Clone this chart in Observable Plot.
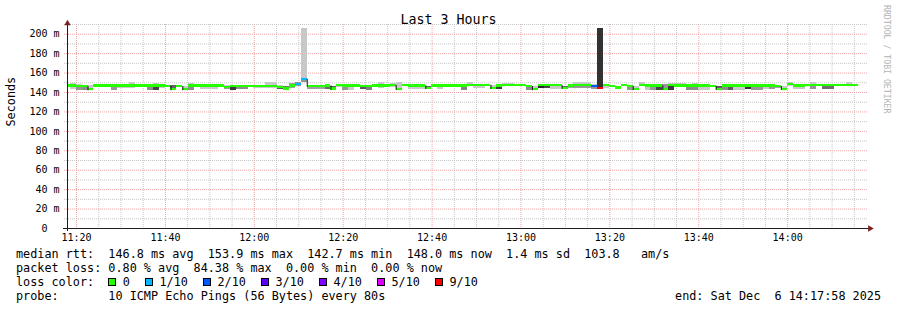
<!DOCTYPE html>
<html><head><meta charset="utf-8">
<script src="https://cdn.jsdelivr.net/npm/d3@7"></script>
<script src="https://cdn.jsdelivr.net/npm/@observablehq/plot@0.6"></script>
<style>
html,body{margin:0;padding:0;background:#fff;}
#wrap{position:relative;width:897px;height:310px;font-family:"DejaVu Sans Mono",monospace;color:#000;overflow:hidden;}
#wrap svg{position:absolute;left:0;top:0;}
.t{position:absolute;white-space:pre;}
</style></head><body><div id="wrap"></div>
<script>
// ---- text / labels ----
const titleText = "Last 3 Hours";
const yAxisLabel = "Seconds";
const yTickValues = [0, 20, 40, 60, 80, 100, 120, 140, 160, 180, 200];
const xTickLabels = ["11:20","11:40","12:00","12:20","12:40","13:00","13:20","13:40","14:00"];
const lossLevels = [0, 1, 2, 3, 4, 5, 9];
const lossLabels = ["0","1/10","2/10","3/10","4/10","5/10","9/10"];
const lossColors = ["#26ff00","#00b8ff","#0059ff","#5e00ff","#7e00ff","#dd00ff","#ff0000"];
const rttStats = ["146.8 ms avg","153.9 ms max","142.7 ms min","148.0 ms now","1.4 ms sd","103.8   am/s"];
const lossStats = ["0.80 % avg","84.38 % max","0.00 % min","0.00 % now"];
const probeText = "10 ICMP Echo Pings (56 Bytes) every 80s";
const endText = "end: Sat Dec  6 14:17:58 2025";
const watermark = "RRDTOOL / TOBI OETIKER";

// ---- series (one entry per 80 s step) ----
const medianMs = [
146.7,146.7,146.5,146.0,142.8,146.7,146.7,146.7,146.7,146.7,
146.7,146.7,146.7,146.7,146.7,146.7,146.7,146.2,143.0,146.2,
143.0,146.7,146.7,146.7,146.7,146.7,146.7,145.5,146.5,146.2,
146.2,146.2,146.5,146.5,146.5,146.5,145.0,143.5,146.7,148.5,
153.5,146.5,146.5,146.5,146.7,143.5,147.0,146.8,146.8,146.8,
146.2,146.5,146.8,146.8,146.8,147.2,143.3,147.4,146.8,146.8,
146.8,144.4,146.8,146.8,146.8,146.8,146.8,146.8,147.4,147.4,
147.4,147.4,144.4,146.8,147.4,147.4,147.4,147.4,146.2,143.0,
147.4,147.4,147.0,147.0,144.4,146.8,147.2,147.2,147.2,146.5,
144.0,147.4,146.0,144.7,147.4,146.4,143.3,147.4,146.8,146.8,
146.8,143.3,147.0,146.8,146.8,146.8,146.8,146.8,146.8,146.2,
143.3,146.8,146.8,146.8,146.8,146.8,146.8,146.8,146.8,146.8,
146.2,143.3,148.0,146.8,146.8,147.4,147.4,147.4,147.4,147.4,
147.4,147.4,147.4,147.4];
const smokeLow = [
145.0,143.5,142.5,142.5,141.8,145.5,145.5,145.0,142.3,144.0,
144.0,144.0,145.5,145.5,142.3,142.3,144.0,145.0,142.0,145.0,
142.0,142.3,145.5,143.5,143.5,143.5,145.5,143.5,142.5,142.7,
142.7,145.0,144.5,144.5,144.0,144.0,143.0,142.5,144.0,146.0,
150.0,143.5,143.5,143.5,143.0,142.5,145.5,141.8,142.5,145.5,
143.2,141.8,145.5,144.0,145.5,145.5,142.3,146.0,143.5,143.5,
143.5,143.4,145.5,143.0,145.5,145.5,145.5,142.3,146.0,144.5,
144.5,146.0,143.4,143.0,146.0,146.0,146.0,146.0,141.8,142.0,
144.5,144.0,143.0,143.0,143.4,144.0,144.0,144.0,144.0,143.0,
143.0,144.0,145.0,143.7,146.0,141.8,142.3,146.0,142.5,142.5,
142.5,142.3,142.3,145.5,145.5,142.5,142.5,142.3,142.3,145.0,
142.3,142.5,142.3,142.3,142.3,143.0,142.3,142.3,143.0,143.0,
144.0,142.3,146.5,143.0,143.0,146.0,143.0,146.0,143.0,143.0,
146.0,146.0,146.0,146.0];
const smokeHigh = [
148.0,149.0,148.5,147.5,147.4,147.5,147.5,147.5,147.5,147.5,
147.5,150.0,147.5,147.5,147.5,148.8,147.5,147.5,147.0,147.5,
146.5,149.0,147.5,147.5,147.5,147.5,147.5,147.5,147.5,147.5,
147.5,147.5,147.5,147.5,150.0,150.0,147.5,146.5,149.0,150.0,
206.0,147.5,147.5,147.5,147.5,146.5,148.0,148.0,148.0,148.0,
147.5,147.5,148.0,150.0,148.0,149.0,149.8,148.5,148.0,148.0,
148.0,146.5,148.0,148.0,148.0,148.0,148.0,148.0,150.5,148.5,
148.5,148.5,147.5,148.0,149.5,149.5,148.5,148.5,147.5,146.5,
148.5,148.5,148.0,148.0,146.5,148.0,150.5,150.5,150.5,148.0,
206.0,148.5,147.4,146.5,148.5,147.5,146.5,149.8,148.0,148.0,
148.0,148.0,149.5,149.5,149.5,148.0,149.5,148.0,148.0,147.5,
146.5,148.0,148.0,148.0,148.0,148.0,148.0,148.0,148.0,148.0,
147.5,146.5,150.5,148.0,148.0,148.5,150.5,148.5,148.5,148.5,
148.5,148.5,149.8,148.5];
const shadeLow = [
200,200,150,140,200,200,200,200,150,200,
200,200,200,200,140,70,200,200,200,200,
200,140,200,200,200,200,200,150,60,140,
140,200,200,200,200,200,90,200,160,150,
150,160,160,160,110,200,200,150,200,200,
90,130,200,200,200,200,200,200,200,200,
200,200,200,200,200,200,200,130,200,200,
200,200,200,60,200,200,200,200,140,200,
40,70,200,200,200,160,150,150,150,150,
50,200,200,160,200,150,200,200,200,150,
70,200,60,200,200,140,140,200,200,200,
200,140,90,200,200,50,150,150,200,150,
160,200,200,200,200,200,150,200,110,110,
200,200,200,200];
const shadeHigh = [
200,200,200,200,200,200,200,200,200,200,
200,200,200,200,200,200,200,200,100,200,
200,200,200,200,200,200,200,200,200,200,
200,200,200,200,200,200,200,120,160,150,
200,200,200,200,200,90,200,200,200,200,
200,200,200,200,200,200,200,200,200,200,
200,100,200,200,200,200,200,200,200,200,
200,200,200,200,200,200,200,200,200,200,
200,200,200,200,100,200,200,200,200,200,
50,200,90,160,200,200,200,200,200,200,
200,150,200,200,200,200,200,200,200,200,
90,200,200,200,200,200,200,200,200,200,
200,200,200,200,200,200,200,200,200,200,
200,200,200,200];
const lossSteps = [39, 40, 89, 90];
const lossCounts = [1, 1, 2, 9];

// ---- build ----
const dataStart = Date.UTC(2025, 11, 6, 11, 17, 15);
const stepMs = 80000;
const gray = v => `rgb(${v},${v},${v})`;
const rows = medianMs.map((m, j) => {
  const k = lossSteps.indexOf(j);
  const lost = k < 0 ? 0 : lossCounts[k];
  let ci = 0;
  lossLevels.forEach((l, i) => { if (lost >= l) ci = i; });
  return {
    t1: new Date(dataStart + j * stepMs), t2: new Date(dataStart + (j + 1) * stepMs),
    med: m, prev: j > 0 ? medianMs[j - 1] : m, lo: smokeLow[j], hi: smokeHigh[j],
    fLo: gray(shadeLow[j]), fHi: gray(shadeHigh[j]), lc: lossColors[ci]
  };
});
const drops = rows.filter(d => d.prev - d.med > 1.8 && d.lc === lossColors[0]);
const xStart = new Date(Date.UTC(2025, 11, 6, 11, 17, 58));
const xEnd = new Date(+xStart + 3 * 3600 * 1000);
const toDate = s => { const [h, m] = s.split(":").map(Number); return new Date(Date.UTC(2025, 11, 6, h, m)); };
const xTicks = xTickLabels.map(toDate);
const minorX = d3.utcMinute.every(5).range(xStart, xEnd).filter(d => d.getUTCMinutes() % 20 !== 0);
const minorY = d3.range(10, 211, 20);
const majorY = yTickValues.filter(v => v > 0);
const gridMinor = "#c6c6c6", gridMajor = "#eea3a3";
const half = 1.15;

const plot = Plot.plot({
  width: 897, height: 310,
  marginLeft: 67, marginRight: 30, marginTop: 24, marginBottom: 82,
  x: {type: "utc", domain: [xStart, xEnd]},
  y: {domain: [0, 210]},
  color: {type: "identity"},
  style: {fontFamily: "DejaVu Sans Mono, monospace", background: "transparent", overflow: "visible"},
  marks: [
    Plot.ruleY(minorY, {stroke: gridMinor, strokeDasharray: "1,1", insetLeft: -3}),
    Plot.ruleX(minorX, {stroke: gridMinor, strokeDasharray: "1,1", insetBottom: -2}),
    Plot.ruleY(majorY, {stroke: gridMajor, strokeDasharray: "1,1", insetLeft: -3}),
    Plot.ruleX(xTicks, {stroke: gridMajor, strokeDasharray: "1,1", insetBottom: -2}),
    Plot.rect(rows, {x1: "t1", x2: "t2", y1: "lo", y2: "med", fill: "fLo", clip: true, shapeRendering: "crispEdges"}),
    Plot.rect(rows, {x1: "t1", x2: "t2", y1: "med", y2: "hi", fill: "fHi", clip: true, shapeRendering: "crispEdges"}),
    Plot.rect(rows, {x1: "t1", x2: "t2", y1: d => d.med - half, y2: d => d.med + half, fill: "lc", clip: true, shapeRendering: "crispEdges"}),
    Plot.ruleX(drops, {x: "t1", y1: d => d.med - half, y2: "prev", stroke: "#1a1a1a", strokeWidth: 1}),
    Plot.ruleY([0], {stroke: "#1f1f1f", insetLeft: -4, insetRight: -2}),
    Plot.ruleX([xStart], {stroke: "#1f1f1f", insetBottom: -3, insetTop: -1}),
    Plot.dot([[xStart, 210]], {x: d => d[0], y: d => d[1], symbol: "triangle", r: 2.4, fill: "#801f1f", stroke: null, dy: -1}),
    Plot.dot([[xEnd, 0]], {x: d => d[0], y: d => d[1], symbol: "triangle", r: 2.4, fill: "#801f1f", stroke: null, dx: 2.5, rotate: 90}),
    Plot.axisY(yTickValues, {tickSize: 0, tickPadding: 8, fontSize: 10, label: null,
      tickFormat: v => v === 0 ? "0\u00a0\u00a0" : `${v}\u00a0m`}),
    Plot.axisX(xTicks, {tickSize: 0, tickPadding: 5, fontSize: 10, label: null, tickFormat: d3.utcFormat("%H:%M")}),
    Plot.text([yAxisLabel], {text: d => d, frameAnchor: "left", rotate: -90, dx: -56, fontSize: 11.8})
  ]
});

const wrap = document.getElementById("wrap");
wrap.appendChild(plot);

function addText(txt, css) {
  const d = document.createElement("div");
  d.className = "t"; d.style.cssText = css; d.textContent = txt;
  wrap.appendChild(d); return d;
}
addText(titleText, "left:0;top:13px;width:897px;text-align:center;font-size:13.3px;line-height:13px;");
addText(watermark, "left:881.5px;top:5px;font-size:8.2px;line-height:9px;color:#b4b4b4;writing-mode:vertical-rl;");

const rowCss = top => `left:16px;top:${top}px;font-size:11.8px;line-height:14px;`;
addText("median rtt:  " + rttStats.join("  "), rowCss(246.6));
addText("packet loss: " + lossStats.join("  "), rowCss(260.6));
const r3 = addText("loss color:  ", rowCss(274.6));
lossLabels.forEach((lab, i) => {
  const item = document.createElement("span");
  item.style.marginRight = "15.2px";
  const sq = document.createElement("span");
  sq.style.cssText = `display:inline-block;width:8px;height:8px;box-sizing:border-box;border:1px solid #000;background:${lossColors[i]};margin-right:6.4px;vertical-align:baseline;`;
  item.appendChild(sq);
  item.appendChild(document.createTextNode(lab));
  r3.appendChild(item);
});
addText("probe:       " + probeText, rowCss(288.6));
addText(endText, "right:16px;top:288.6px;font-size:11.8px;line-height:14px;");
</script></body></html>
